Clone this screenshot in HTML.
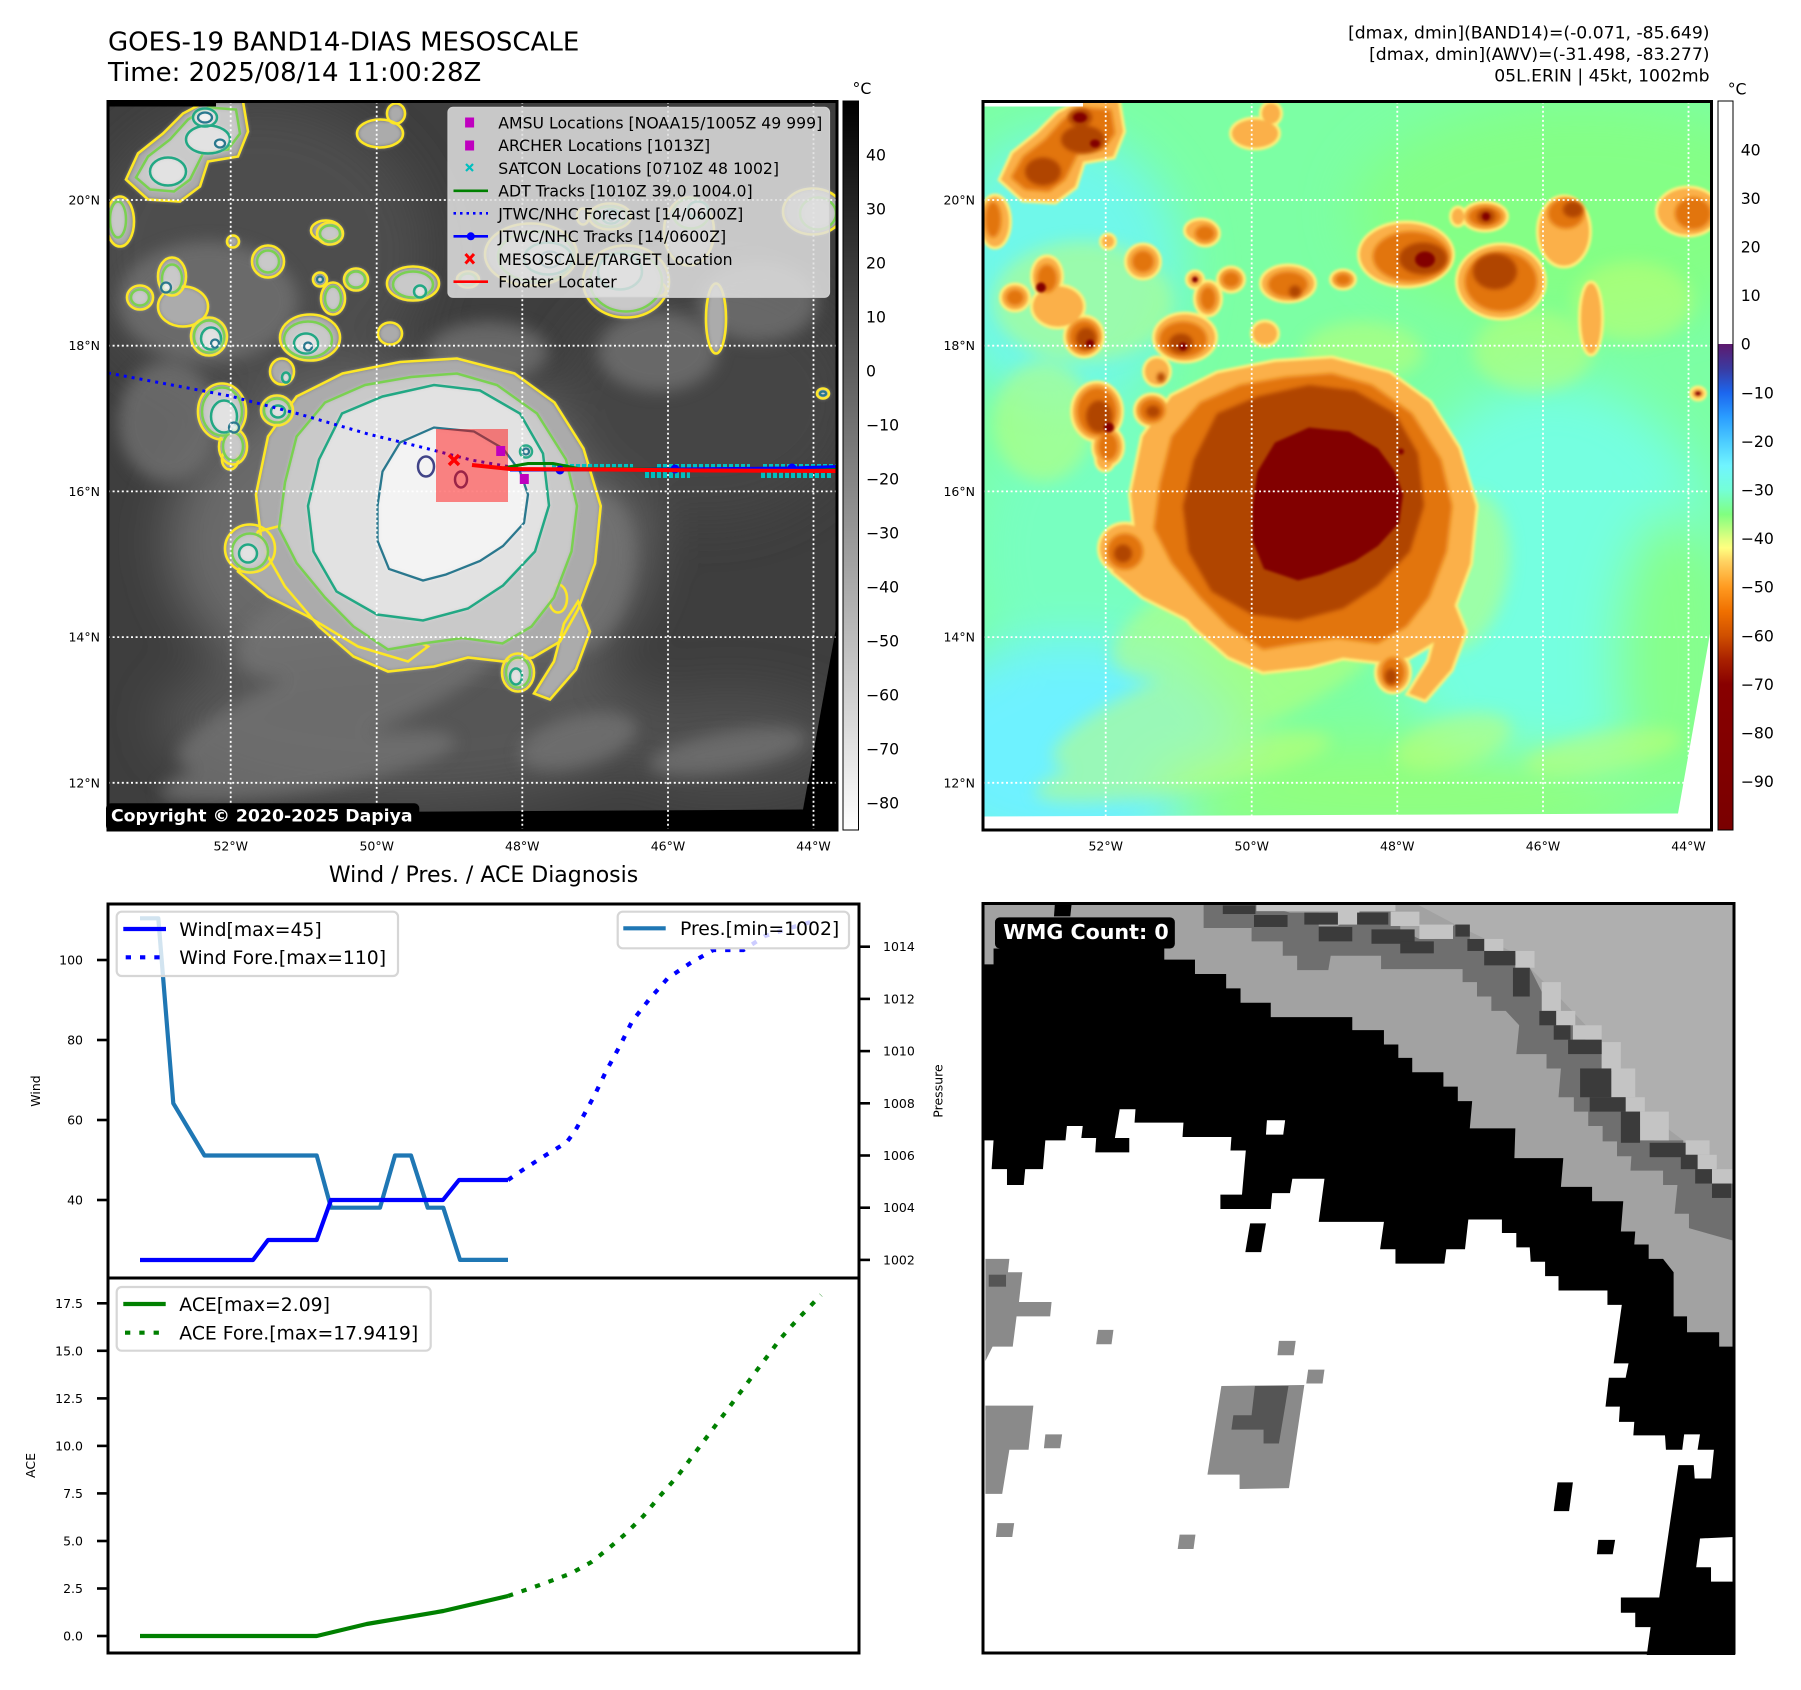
<!DOCTYPE html>
<html><head><meta charset="utf-8"><style>
html,body{margin:0;padding:0;background:#fff;}
svg{display:block;}
text{font-family:"DejaVu Sans","Liberation Sans",sans-serif;}
</style></head><body>
<svg width="1801" height="1690" viewBox="0 0 1801 1690" xmlns="http://www.w3.org/2000/svg">
<defs>
<clipPath id="mc"><rect x="0" y="0" width="729" height="728.5"/></clipPath>
<filter id="b1" x="-20%" y="-20%" width="140%" height="140%"><feGaussianBlur stdDeviation="1.3"/></filter>
<filter id="b2" x="-20%" y="-20%" width="140%" height="140%"><feGaussianBlur stdDeviation="2"/></filter>
<filter id="b8" x="-30%" y="-30%" width="160%" height="160%"><feGaussianBlur stdDeviation="8"/></filter>
<filter id="b25" x="-50%" y="-50%" width="200%" height="200%"><feGaussianBlur stdDeviation="25"/></filter>
<linearGradient id="gcb" x1="0" y1="0" x2="0" y2="1">
<stop offset="0" stop-color="#000"/><stop offset="1" stop-color="#fff"/>
</linearGradient>
<linearGradient id="rcb" x1="0" y1="0" x2="0" y2="1">
<stop offset="0" stop-color="#fff"/><stop offset="0.333" stop-color="#fff"/>
<stop offset="0.3335" stop-color="#5e1a6e"/>
<stop offset="0.367" stop-color="#3a3aa0"/>
<stop offset="0.4" stop-color="#1c66ee"/>
<stop offset="0.433" stop-color="#2a9cff"/>
<stop offset="0.467" stop-color="#4cccff"/>
<stop offset="0.5" stop-color="#70f4ff"/>
<stop offset="0.533" stop-color="#74ffd8"/>
<stop offset="0.567" stop-color="#80ff80"/>
<stop offset="0.6" stop-color="#e0ff80"/>
<stop offset="0.613" stop-color="#ffff80"/>
<stop offset="0.633" stop-color="#ffd060"/>
<stop offset="0.667" stop-color="#ff9a20"/>
<stop offset="0.7" stop-color="#f07000"/>
<stop offset="0.733" stop-color="#d05000"/>
<stop offset="0.767" stop-color="#a82000"/>
<stop offset="0.8" stop-color="#880000"/>
<stop offset="1" stop-color="#7a0000"/>
</linearGradient>

<g id="c0">
<ellipse cx="290" cy="500" rx="170" ry="55" transform="rotate(-20 290 500)"/>
<ellipse cx="230" cy="600" rx="170" ry="40" transform="rotate(-20 230 600)"/>
<ellipse cx="200" cy="665" rx="150" ry="25" transform="rotate(-10 200 665)"/>
<ellipse cx="480" cy="470" rx="45" ry="80" transform="rotate(10 480 470)"/>
<ellipse cx="620" cy="650" rx="80" ry="20" transform="rotate(-10 620 650)"/>
<ellipse cx="100" cy="200" rx="90" ry="60"/>
<ellipse cx="60" cy="320" rx="50" ry="60"/>
<ellipse cx="380" cy="250" rx="60" ry="30"/>
<ellipse cx="550" cy="250" rx="60" ry="40"/>
<ellipse cx="650" cy="200" rx="60" ry="40"/>
<ellipse cx="470" cy="640" rx="60" ry="25" transform="rotate(-15 470 640)"/>
</g>

<g id="c1">
<polygon points="18,78 30,52 55,32 75,12 98,0 135,0 140,30 130,55 100,60 92,85 72,100 40,98"/>
<ellipse cx="12" cy="120" rx="14" ry="25"/>
<ellipse cx="64" cy="175" rx="14" ry="19"/>
<ellipse cx="32" cy="196" rx="13" ry="12"/>
<ellipse cx="75" cy="205" rx="25" ry="20"/>
<ellipse cx="101" cy="235" rx="18" ry="19"/>
<ellipse cx="114" cy="310" rx="24" ry="28"/>
<ellipse cx="125" cy="345" rx="14" ry="18"/>
<ellipse cx="169" cy="309" rx="16" ry="15"/>
<ellipse cx="160" cy="160" rx="16" ry="16"/>
<ellipse cx="202" cy="236" rx="30" ry="23"/>
<ellipse cx="222" cy="132" rx="13" ry="11"/>
<ellipse cx="212" cy="178" rx="7" ry="7"/>
<ellipse cx="225" cy="197" rx="12" ry="16"/>
<ellipse cx="248" cy="178" rx="12" ry="11"/>
<ellipse cx="174" cy="270" rx="12" ry="13"/>
<ellipse cx="305" cy="182" rx="26" ry="17"/>
<ellipse cx="282" cy="232" rx="12" ry="11"/>
<ellipse cx="218" cy="129" rx="15" ry="10"/>
<ellipse cx="288" cy="12" rx="9" ry="10"/>
<ellipse cx="272" cy="32" rx="23" ry="14"/>
<ellipse cx="360" cy="178" rx="11" ry="8"/>
<ellipse cx="423" cy="153" rx="46" ry="31"/>
<ellipse cx="518" cy="180" rx="43" ry="36"/>
<ellipse cx="502" cy="115" rx="21" ry="13"/>
<ellipse cx="475" cy="115" rx="6" ry="8"/>
<ellipse cx="550" cy="188" rx="8" ry="7"/>
<ellipse cx="581" cy="130" rx="25" ry="34"/>
<ellipse cx="608" cy="217" rx="10" ry="35"/>
<ellipse cx="705" cy="110" rx="30" ry="23"/>
<ellipse cx="715" cy="292" rx="6" ry="5"/>
<ellipse cx="125" cy="140" rx="6" ry="6"/>
<ellipse cx="122" cy="358" rx="8" ry="10"/>
<ellipse cx="412" cy="346" rx="14" ry="12"/>
<ellipse cx="410" cy="571" rx="16" ry="19"/>
<ellipse cx="450" cy="497" rx="9" ry="14"/>
<ellipse cx="142" cy="447" rx="25" ry="24"/>
<polygon points="130,470 150,430 190,420 230,470 270,520 320,545 300,560 250,545 200,515 160,495"/>
<polygon points="470,500 482,530 468,568 442,598 426,592 446,560 456,522"/>
<polygon points="148,393 160,335 188.6,295 234.5,272 292,260.5 349,257 406.5,272 446.5,301 475.5,347 492.7,404.5 487,462 470,508 452,540 425,556 395,560 360,556 326,565 280,570 245.5,555 211,525 177,485 154,444.5"/>
</g>

<g id="c2">
<polygon points="28,76 40,55 62,38 80,18 100,6 128,8 132,32 120,48 95,52 82,78 66,90 42,88"/>
<ellipse cx="10" cy="118" rx="8" ry="18"/>
<ellipse cx="64" cy="177" rx="10" ry="14"/>
<ellipse cx="32" cy="196" rx="9" ry="8"/>
<ellipse cx="101" cy="235" rx="15" ry="16"/>
<ellipse cx="114" cy="310" rx="20" ry="24"/>
<ellipse cx="125" cy="345" rx="10" ry="14"/>
<ellipse cx="169" cy="309" rx="13" ry="12"/>
<ellipse cx="160" cy="160" rx="11" ry="11"/>
<ellipse cx="200" cy="238" rx="24" ry="18"/>
<ellipse cx="222" cy="132" rx="10" ry="8"/>
<ellipse cx="225" cy="197" rx="8" ry="12"/>
<ellipse cx="248" cy="178" rx="9" ry="8"/>
<ellipse cx="305" cy="183" rx="20" ry="13"/>
<ellipse cx="360" cy="178" rx="8" ry="6"/>
<ellipse cx="428" cy="155" rx="38" ry="25"/>
<ellipse cx="518" cy="180" rx="36" ry="30"/>
<ellipse cx="502" cy="115" rx="17" ry="10"/>
<ellipse cx="583" cy="112" rx="18" ry="15"/>
<ellipse cx="710" cy="112" rx="18" ry="16"/>
<ellipse cx="142" cy="450" rx="18" ry="18"/>
<ellipse cx="410" cy="571" rx="12" ry="15"/>
<polygon points="177,381 188.6,335 217,301 257,283.5 303,275.5 349,272 389,283.5 429,312 458,358 469,404.5 463.5,450 446,496 423.5,525 394.5,542 354.5,536.5 314.5,542 280,548 245.5,525 217,496 188.6,461.5 171,427"/>
</g>

<g id="c3">
<ellipse cx="100" cy="38" rx="22" ry="14"/>
<ellipse cx="60" cy="70" rx="18" ry="14"/>
<ellipse cx="97" cy="16" rx="12" ry="9"/>
<ellipse cx="103" cy="237" rx="10" ry="11"/>
<ellipse cx="116" cy="315" rx="13" ry="16"/>
<ellipse cx="170" cy="310" rx="7" ry="6"/>
<ellipse cx="198" cy="242" rx="12" ry="10"/>
<ellipse cx="312" cy="190" rx="6" ry="6"/>
<ellipse cx="440" cy="157" rx="24" ry="16"/>
<ellipse cx="512" cy="170" rx="22" ry="18"/>
<ellipse cx="503" cy="115" rx="9" ry="7"/>
<ellipse cx="590" cy="108" rx="10" ry="8"/>
<ellipse cx="140" cy="452" rx="9" ry="9"/>
<ellipse cx="418" cy="350" rx="6" ry="6"/>
<ellipse cx="408" cy="575" rx="6" ry="8"/>
<ellipse cx="178" cy="276" rx="4" ry="5"/>
<polygon points="211,358 234,312 274.5,295 326,283.5 372,289 412,312 435,352 441,404 427,450 395,484 360,507 315,519 269,513 228.5,490 205.5,450 200,404.5"/>
</g>

<g id="c4">
<ellipse cx="97" cy="16" rx="7" ry="5"/>
<ellipse cx="112" cy="42" rx="5" ry="4"/>
<ellipse cx="58" cy="186" rx="5" ry="5"/>
<ellipse cx="107" cy="242" rx="4" ry="4"/>
<ellipse cx="126" cy="326" rx="5" ry="5"/>
<ellipse cx="200" cy="245" rx="4" ry="4"/>
<ellipse cx="212" cy="178" rx="3" ry="3"/>
<ellipse cx="442" cy="158" rx="10" ry="8"/>
<ellipse cx="503" cy="115" rx="4" ry="4"/>
<ellipse cx="715" cy="292" rx="3" ry="2"/>
<ellipse cx="418" cy="350" rx="3" ry="3"/>
<polygon points="274.5,370 292,341 326,326 366,330 395,347 412,370 420,393 416,421.5 395,444.5 372,459.5 338,473 315,479 281,467.5 269.5,439 269.5,404.5"/>
</g>

<g id="grid" fill="none" stroke="#fff" stroke-width="1.8" stroke-dasharray="2 2.6">
<line x1="122.7" y1="0" x2="122.7" y2="729"/>
<line x1="268.7" y1="0" x2="268.7" y2="729"/>
<line x1="414.3" y1="0" x2="414.3" y2="729"/>
<line x1="560" y1="0" x2="560" y2="729"/>
<line x1="705.5" y1="0" x2="705.5" y2="729"/>
<line x1="0" y1="98.5" x2="729" y2="98.5"/>
<line x1="0" y1="244.2" x2="729" y2="244.2"/>
<line x1="0" y1="389.9" x2="729" y2="389.9"/>
<line x1="0" y1="535.6" x2="729" y2="535.6"/>
<line x1="0" y1="681.3" x2="729" y2="681.3"/>
</g>
</defs>

<!-- Titles -->
<text x="108" y="50.7" font-size="26">GOES-19 BAND14-DIAS MESOSCALE</text>
<text x="108" y="81" font-size="26">Time: 2025/08/14 11:00:28Z</text>
<text x="1709.5" y="38.5" font-size="17.2" text-anchor="end">[dmax, dmin](BAND14)=(-0.071, -85.649)</text>
<text x="1709.5" y="60" font-size="17.2" text-anchor="end">[dmax, dmin](AWV)=(-31.498, -83.277)</text>
<text x="1709.5" y="81.5" font-size="17.2" text-anchor="end">05L.ERIN | 45kt, 1002mb</text>

<!-- LEFT MAP -->
<g transform="translate(108,101.5)">
<g clip-path="url(#mc)">
<rect x="0" y="0" width="729" height="729" fill="#3e3e3e"/>
<g filter="url(#b25)">
<ellipse cx="150" cy="150" rx="170" ry="150" fill="#4e4e4e"/>
<ellipse cx="300" cy="440" rx="240" ry="170" fill="#6a6a6a"/>
<ellipse cx="300" cy="620" rx="250" ry="80" fill="#575757"/>
<ellipse cx="600" cy="300" rx="150" ry="120" fill="#454545"/>
<ellipse cx="620" cy="640" rx="120" ry="50" fill="#505050"/>
</g>
<use href="#c0" fill="#747474" opacity="0.75" filter="url(#b8)"/>
<use href="#c1" fill="#ababab" filter="url(#b2)"/>
<use href="#c1" fill="none" stroke="#fde725" stroke-width="2.6"/>
<use href="#c2" fill="#c9c9c9" filter="url(#b2)"/>
<use href="#c2" fill="none" stroke="#7ad151" stroke-width="2.5"/>
<use href="#c3" fill="#e2e2e2" filter="url(#b2)"/>
<use href="#c3" fill="none" stroke="#22a884" stroke-width="2.5"/>
<use href="#c4" fill="#f3f3f3" filter="url(#b2)"/>
<use href="#c4" fill="none" stroke="#2a788e" stroke-width="2.3"/>
<ellipse cx="318" cy="365" rx="8" ry="10" fill="none" stroke="#414487" stroke-width="2.5"/>
<ellipse cx="353" cy="378" rx="6" ry="8" fill="none" stroke="#414487" stroke-width="2.5"/>
<polygon points="729,521 729,729 0,729 0,712 695,708" fill="#000"/>
<rect x="0" y="0" width="108" height="5" fill="#000"/>
<use href="#grid"/>
<!-- tracks -->
<polyline points="0,271.5 64,283.5 122,294.5 191,312.5 260,332.5 317,346.5 363,358.5 414,367.5" fill="none" stroke="#0000ff" stroke-width="3" stroke-dasharray="3 5"/>
<g stroke="#00c0c0" stroke-width="6" stroke-dasharray="4 2">
<line x1="444" y1="365.5" x2="525" y2="365.5"/>
<line x1="549" y1="365.5" x2="642" y2="365.5"/>
<line x1="655" y1="365.5" x2="729" y2="365.5"/>
<line x1="537" y1="373.5" x2="582" y2="373.5"/>
<line x1="653" y1="373.5" x2="725" y2="373.5"/>
</g>
<polyline points="392,367 420,362 445,362 470,367 729,368" fill="none" stroke="#008000" stroke-width="3"/>
<polyline points="402,368.5 452,368.5 567,367.5 684,366.5 729,365" fill="none" stroke="#0000ff" stroke-width="3"/>
<circle cx="452" cy="368.5" r="4.5" fill="#0000ff"/>
<circle cx="567" cy="367.5" r="4.5" fill="#0000ff"/>
<circle cx="684" cy="366.5" r="4.5" fill="#0000ff"/>
<polyline points="364,363.5 402,367.5 500,368 600,369 729,369.5" fill="none" stroke="#ff0000" stroke-width="4"/>
<rect x="328" y="327.5" width="72" height="73" fill="#ff0000" fill-opacity="0.47"/>
<g stroke="#ff0000" stroke-width="3.5"><line x1="341" y1="353.5" x2="351" y2="363.5"/><line x1="351" y1="353.5" x2="341" y2="363.5"/></g>
<rect x="388.2" y="344.5" width="9" height="10" fill="#bf00bf"/>
<rect x="411.8" y="372.5" width="9" height="10" fill="#bf00bf"/>
</g>
<rect x="0" y="0" width="729" height="728.5" fill="none" stroke="#000" stroke-width="3"/>
</g>

<!-- left legend -->
<rect x="448" y="107.3" width="381.5" height="190" rx="5" fill="#e0e0e0" fill-opacity="0.86" stroke="#cfcfcf" stroke-width="1.2"/>
<rect x="465.1" y="117.5" width="9" height="10" fill="#bf00bf"/>
<rect x="465.1" y="140.5" width="9" height="10" fill="#bf00bf"/>
<g stroke="#00bfbf" stroke-width="2.2"><line x1="466" y1="164" x2="473" y2="171"/><line x1="473" y1="164" x2="466" y2="171"/></g>
<line x1="453.5" y1="190.8" x2="488" y2="190.8" stroke="#008000" stroke-width="2.6"/>
<line x1="453.5" y1="213.3" x2="488" y2="213.3" stroke="#0000ff" stroke-width="2.6" stroke-dasharray="2.5 4"/>
<line x1="453.5" y1="236.3" x2="488" y2="236.3" stroke="#0000ff" stroke-width="2.6"/>
<circle cx="470.8" cy="236.3" r="4" fill="#0000ff"/>
<g stroke="#ff0000" stroke-width="3"><line x1="465.5" y1="254" x2="474" y2="263.5"/><line x1="474" y1="254" x2="465.5" y2="263.5"/></g>
<line x1="453.5" y1="281.7" x2="488" y2="281.7" stroke="#ff0000" stroke-width="2.6"/>
<g font-size="15.7" fill="#000">
<text x="498.3" y="128.3">AMSU Locations [NOAA15/1005Z 49 999]</text>
<text x="498.3" y="151.1">ARCHER Locations [1013Z]</text>
<text x="498.3" y="173.8">SATCON Locations [0710Z 48 1002]</text>
<text x="498.3" y="196.6">ADT Tracks [1010Z 39.0 1004.0]</text>
<text x="498.3" y="219.3">JTWC/NHC Forecast [14/0600Z]</text>
<text x="498.3" y="242.1">JTWC/NHC Tracks [14/0600Z]</text>
<text x="498.3" y="264.8">MESOSCALE/TARGET Location</text>
<text x="498.3" y="287.6">Floater Locater</text>
</g>

<!-- copyright -->
<rect x="106" y="803.3" width="313.3" height="27.7" rx="5" fill="#000"/>
<text x="111" y="821.7" font-size="17.3" font-weight="bold" fill="#fff">Copyright © 2020-2025 Dapiya</text>

<!-- map tick labels -->
<g font-size="12.5" fill="#000">
<g text-anchor="end">
<text x="100" y="204.5">20°N</text>
<text x="100" y="350.2">18°N</text>
<text x="100" y="495.9">16°N</text>
<text x="100" y="641.6">14°N</text>
<text x="100" y="787.3">12°N</text>
<text x="975" y="204.5">20°N</text>
<text x="975" y="350.2">18°N</text>
<text x="975" y="495.9">16°N</text>
<text x="975" y="641.6">14°N</text>
<text x="975" y="787.3">12°N</text>
</g>
<g text-anchor="middle">
<text x="230.7" y="850.5">52°W</text>
<text x="376.7" y="850.5">50°W</text>
<text x="522.3" y="850.5">48°W</text>
<text x="668" y="850.5">46°W</text>
<text x="813.5" y="850.5">44°W</text>
<text x="1105.7" y="850.5">52°W</text>
<text x="1251.7" y="850.5">50°W</text>
<text x="1397.3" y="850.5">48°W</text>
<text x="1543" y="850.5">46°W</text>
<text x="1688.5" y="850.5">44°W</text>
</g>
</g>

<!-- left colorbar -->
<rect x="843" y="101" width="15.5" height="729" fill="url(#gcb)" stroke="#000" stroke-width="1"/>
<text x="852.5" y="94" font-size="15.7">°C</text>
<g font-size="15.7">
<text x="866" y="160.7">40</text>
<text x="866" y="214.7">30</text>
<text x="866" y="268.7">20</text>
<text x="866" y="322.7">10</text>
<text x="866" y="376.7">0</text>
<text x="866" y="430.7">−10</text>
<text x="866" y="484.7">−20</text>
<text x="866" y="538.7">−30</text>
<text x="866" y="592.7">−40</text>
<text x="866" y="646.7">−50</text>
<text x="866" y="700.7">−60</text>
<text x="866" y="754.7">−70</text>
<text x="866" y="808.7">−80</text>
</g>

<!-- RIGHT MAP -->
<g transform="translate(983,101.5)">
<g clip-path="url(#mc)">
<rect x="0" y="0" width="729" height="729" fill="#7cffa4"/>
<g filter="url(#b25)">
<ellipse cx="80" cy="170" rx="120" ry="140" fill="#6ff8ea"/>
<ellipse cx="120" cy="450" rx="130" ry="160" fill="#78ffc0"/>
<ellipse cx="90" cy="650" rx="170" ry="110" fill="#6ef2ff"/>
<ellipse cx="570" cy="480" rx="170" ry="200" fill="#74ffe0"/>
<ellipse cx="600" cy="110" rx="230" ry="110" fill="#84ff86"/>
<ellipse cx="420" cy="690" rx="250" ry="50" fill="#90ff80"/>
<ellipse cx="690" cy="560" rx="60" ry="150" fill="#86ff8c"/>
</g>
<use href="#c0" fill="#c4ff70" opacity="0.5" filter="url(#b8)"/>
<use href="#c1" fill="none" stroke="#fff07a" stroke-width="6" filter="url(#b1)"/>
<use href="#c1" fill="#fbb048" filter="url(#b1)"/>
<use href="#c2" fill="#e27410" filter="url(#b2)"/>
<use href="#c3" fill="#b04400" filter="url(#b2)"/>
<use href="#c4" fill="#820000" filter="url(#b1)"/>
<polygon points="729,521 729,729 0,729 0,715 695,712" fill="#fff"/>
<rect x="0" y="0" width="100" height="5" fill="#fff"/>
<use href="#grid"/>
</g>
<rect x="0" y="0" width="728.5" height="728.5" fill="none" stroke="#000" stroke-width="3"/>
</g>

<!-- right colorbar -->
<rect x="1718" y="101" width="15" height="729" fill="url(#rcb)" stroke="#000" stroke-width="1"/>
<text x="1727.7" y="94.5" font-size="15.7">°C</text>
<g font-size="15.7">
<text x="1740.7" y="155.3">40</text>
<text x="1740.7" y="203.9">30</text>
<text x="1740.7" y="252.5">20</text>
<text x="1740.7" y="301.1">10</text>
<text x="1740.7" y="349.7">0</text>
<text x="1740.7" y="398.3">−10</text>
<text x="1740.7" y="446.9">−20</text>
<text x="1740.7" y="495.5">−30</text>
<text x="1740.7" y="544.1">−40</text>
<text x="1740.7" y="592.7">−50</text>
<text x="1740.7" y="641.3">−60</text>
<text x="1740.7" y="689.9">−70</text>
<text x="1740.7" y="738.5">−80</text>
<text x="1740.7" y="787.1">−90</text>
</g>

<!-- WIND / PRES / ACE -->
<text x="483.5" y="882" font-size="22" text-anchor="middle">Wind / Pres. / ACE Diagnosis</text>

<g stroke="#000" stroke-width="2.6">
<line x1="97" y1="960" x2="108" y2="960"/>
<line x1="97" y1="1040" x2="108" y2="1040"/>
<line x1="97" y1="1120" x2="108" y2="1120"/>
<line x1="97" y1="1200" x2="108" y2="1200"/>
<line x1="859" y1="946.7" x2="870" y2="946.7"/>
<line x1="859" y1="998.9" x2="870" y2="998.9"/>
<line x1="859" y1="1051.1" x2="870" y2="1051.1"/>
<line x1="859" y1="1103.3" x2="870" y2="1103.3"/>
<line x1="859" y1="1155.5" x2="870" y2="1155.5"/>
<line x1="859" y1="1207.7" x2="870" y2="1207.7"/>
<line x1="859" y1="1259.9" x2="870" y2="1259.9"/>
<line x1="97" y1="1303.3" x2="108" y2="1303.3"/>
<line x1="97" y1="1350.8" x2="108" y2="1350.8"/>
<line x1="97" y1="1398.4" x2="108" y2="1398.4"/>
<line x1="97" y1="1445.9" x2="108" y2="1445.9"/>
<line x1="97" y1="1493.4" x2="108" y2="1493.4"/>
<line x1="97" y1="1541" x2="108" y2="1541"/>
<line x1="97" y1="1588.5" x2="108" y2="1588.5"/>
<line x1="97" y1="1636" x2="108" y2="1636"/>
</g>
<g font-size="12.5" text-anchor="end">
<text x="83" y="964.5">100</text>
<text x="83" y="1044.5">80</text>
<text x="83" y="1124.5">60</text>
<text x="83" y="1204.5">40</text>
<text x="83" y="1307.8">17.5</text>
<text x="83" y="1355.3">15.0</text>
<text x="83" y="1402.9">12.5</text>
<text x="83" y="1450.4">10.0</text>
<text x="83" y="1497.9">7.5</text>
<text x="83" y="1545.5">5.0</text>
<text x="83" y="1593">2.5</text>
<text x="83" y="1640.5">0.0</text>
</g>
<g font-size="12.5">
<text x="883" y="951.2">1014</text>
<text x="883" y="1003.4">1012</text>
<text x="883" y="1055.6">1010</text>
<text x="883" y="1107.8">1008</text>
<text x="883" y="1160">1006</text>
<text x="883" y="1212.2">1004</text>
<text x="883" y="1264.4">1002</text>
</g>
<text transform="translate(40,1091) rotate(-90)" font-size="12.5" text-anchor="middle">Wind</text>
<text transform="translate(942.5,1091) rotate(-90)" font-size="12.5" text-anchor="middle">Pressure</text>
<text transform="translate(35,1465.5) rotate(-90)" font-size="12.5" text-anchor="middle">ACE</text>

<polyline points="140,918.3 158.3,918.3 173.3,1103.3 204.5,1155.5 316.7,1155.5 331,1207.7 380,1207.7 395,1155.5 411,1155.5 427.7,1207.7 443.3,1207.7 460,1259.9 508,1259.9" fill="none" stroke="#1f77b4" stroke-width="4.2" stroke-linejoin="round"/>
<polyline points="140,1260 253,1260 268,1240 316.7,1240 331,1200 443,1200 459,1180 508,1180" fill="none" stroke="#0000ff" stroke-width="4.2" stroke-linejoin="round"/>
<polyline points="508,1180 520,1171.7 542.3,1157.3 566.7,1142.3 575,1131 581.7,1119 595,1094.3 606.7,1070 620,1045.7 632.3,1021 649.3,999.3 667.7,978.3 690,963.3 713.3,950 743.3,950 765,936 790,928 818,920" fill="none" stroke="#0000ff" stroke-width="4.2" stroke-dasharray="5.3 9"/>
<polyline points="140,1636 316.7,1636 366.7,1624 443.3,1611 508,1596" fill="none" stroke="#008000" stroke-width="4.2" stroke-linejoin="round"/>
<polyline points="508,1596 539.8,1585 570.9,1573.5 591.5,1562 608.7,1548.3 626,1533.4 643.2,1516.2 660.4,1495.5 677.7,1476 694.9,1453 712.1,1430 729.4,1407 746.6,1384 763.8,1361 781,1338 798.3,1318.5 821,1295" fill="none" stroke="#008000" stroke-width="4.2" stroke-dasharray="5.3 9"/>

<rect x="116.7" y="911.7" width="281.3" height="64.3" rx="5" fill="#fff" fill-opacity="0.8" stroke="#d6d6d6" stroke-width="2.2"/>
<line x1="123.3" y1="929" x2="166" y2="929" stroke="#0000ff" stroke-width="4.2"/>
<line x1="125.7" y1="957.3" x2="166" y2="957.3" stroke="#0000ff" stroke-width="4.2" stroke-dasharray="5.3 9"/>
<text x="179.3" y="935.8" font-size="18.8">Wind[max=45]</text>
<text x="179.3" y="964.1" font-size="18.8">Wind Fore.[max=110]</text>

<rect x="617.7" y="911.7" width="231.3" height="36.6" rx="5" fill="#fff" fill-opacity="0.8" stroke="#d6d6d6" stroke-width="2.2"/>
<line x1="623.3" y1="928.3" x2="665.7" y2="928.3" stroke="#1f77b4" stroke-width="4.2"/>
<text x="680" y="935.1" font-size="18.8">Pres.[min=1002]</text>

<rect x="116.7" y="1287" width="314" height="63.7" rx="5" fill="#fff" fill-opacity="0.8" stroke="#d6d6d6" stroke-width="2.2"/>
<line x1="123.3" y1="1304" x2="165.7" y2="1304" stroke="#008000" stroke-width="4.2"/>
<line x1="125" y1="1332.7" x2="165.7" y2="1332.7" stroke="#008000" stroke-width="4.2" stroke-dasharray="5.3 9"/>
<text x="179.3" y="1310.8" font-size="18.8">ACE[max=2.09]</text>
<text x="179.3" y="1339.5" font-size="18.8">ACE Fore.[max=17.9419]</text>

<rect x="108" y="904" width="751" height="374" fill="none" stroke="#000" stroke-width="3"/>
<rect x="108" y="1278" width="751" height="375" fill="none" stroke="#000" stroke-width="3"/>

<!-- BOTTOM RIGHT PANEL -->
<svg x="983" y="903" width="752" height="752" viewBox="0 0 1568 1568" preserveAspectRatio="none">
<rect x="0" y="0" width="1568" height="1568" fill="#a2a2a2"/>
<polygon points="900,0 1568,0 1568,585 1460,495 1340,405 1290,290 1200,195 1110,105 985,45" fill="#afafaf"/>
<polygon points="460,0 460,52 560,52 560,80 625,80 625,110 655,110 655,140 720,140 725,110 830,110 830,138 1000,138 1000,165 1030,165 1030,195 1060,195 1060,225 1090,225 1118,255 1112,315 1175,315 1175,345 1205,345 1200,405 1232,405 1232,435 1262,435 1262,465 1292,465 1292,497 1322,497 1322,528 1352,528 1350,558 1418,558 1418,588 1448,588 1442,648 1472,648 1472,678 1568,705 1568,585 1520,585 1520,555 1490,555 1490,525 1460,525 1460,495 1400,495 1400,465 1370,465 1370,435 1340,435 1340,405 1310,405 1310,345 1290,345 1290,290 1260,290 1230,255 1200,225 1200,195 1170,195 1140,135 1110,135 1110,105 1050,105 1050,75 1015,75 1015,45 985,45 940,75 910,75 870,55 870,20 850,18 780,18 740,48 700,48 700,20 640,20 568,0" fill="#6f6f6f"/>
<g fill="#c4c4c4">
<rect x="570" y="3" width="290" height="14"/>
<rect x="740" y="15" width="45" height="30"/><rect x="850" y="18" width="60" height="30"/><rect x="910" y="45" width="70" height="30"/>
<rect x="1045" y="75" width="40" height="25"/><rect x="1110" y="100" width="40" height="35"/><rect x="1165" y="165" width="40" height="60"/>
<rect x="1195" y="225" width="40" height="30"/><rect x="1230" y="255" width="60" height="30"/><rect x="1290" y="290" width="40" height="60"/>
<rect x="1310" y="345" width="50" height="60"/><rect x="1340" y="405" width="40" height="30"/><rect x="1370" y="435" width="60" height="60"/>
<rect x="1465" y="495" width="50" height="30"/><rect x="1490" y="525" width="40" height="30"/><rect x="1520" y="555" width="45" height="30"/>
</g>
<g fill="#3b3b3b">
<rect x="500" y="5" width="68" height="18"/><rect x="565" y="25" width="70" height="25"/><rect x="670" y="20" width="70" height="25"/>
<rect x="700" y="50" width="70" height="30"/><rect x="780" y="20" width="65" height="25"/><rect x="810" y="55" width="90" height="30"/>
<rect x="870" y="80" width="70" height="25"/><rect x="985" y="45" width="30" height="25"/><rect x="1010" y="75" width="35" height="25"/>
<rect x="1045" y="100" width="65" height="30"/><rect x="1105" y="135" width="35" height="60"/><rect x="1160" y="225" width="35" height="30"/>
<rect x="1190" y="255" width="35" height="30"/><rect x="1220" y="285" width="70" height="30"/><rect x="1245" y="345" width="65" height="60"/>
<rect x="1265" y="405" width="75" height="30"/><rect x="1330" y="435" width="40" height="65"/><rect x="1390" y="500" width="75" height="30"/>
<rect x="1455" y="525" width="35" height="30"/><rect x="1485" y="555" width="35" height="30"/><rect x="1520" y="585" width="40" height="30"/>
</g>
<polygon points="0,128 22,128 22,95 378,95 378,118 442,118 442,148 507,148 507,178 537,178 537,208 600,208 600,238 770,238 770,265 836,265 836,295 866,295 866,323 895,323 895,353 960,353 960,383 990,383 990,413 1020,413 1015,470 1110,470 1108,532 1210,532 1205,592 1270,592 1270,622 1335,622 1330,685 1360,685 1358,712 1388,712 1388,742 1418,742 1440,770 1440,862 1468,862 1468,895 1535,895 1535,925 1568,925 1568,1568 0,1568" fill="#000"/>
<polygon points="150,0 185,0 182,28 148,28" fill="#000"/>
<polygon points="0,495 22,495 18,555 50,555 50,588 85,588 88,555 125,555 130,495 172,495 175,465 208,465 205,490 236,490 234,520 305,520 305,490 275,490 285,430 318,430 316,458 418,458 416,488 518,488 516,516 548,516 540,608 495,608 495,638 600,638 603,605 640,605 645,575 712,575 700,665 836,665 828,722 860,722 860,752 962,752 966,722 1005,722 1012,660 1082,660 1082,688 1112,688 1112,718 1140,718 1142,748 1172,748 1172,778 1200,778 1200,808 1302,808 1302,838 1332,838 1315,960 1346,960 1340,990 1305,990 1298,1050 1328,1050 1326,1082 1358,1082 1356,1110 1422,1110 1424,1140 1458,1140 1462,1108 1495,1108 1490,1140 1524,1140 1518,1200 1484,1200 1482,1172 1450,1172 1430,1310 1410,1448 1330,1448 1330,1480 1360,1480 1360,1510 1392,1510 1384,1568 0,1568" fill="#fff"/>
<polygon points="592,453 630,453 626,483 590,483" fill="#fff"/>
<polygon points="1495,1325 1565,1322 1565,1415 1518,1415 1518,1385 1487,1385" fill="#fff"/>
<g fill="#000">
<polygon points="557,668 590,668 580,728 547,728"/>
<polygon points="1198,1208 1230,1208 1222,1268 1190,1268"/>
<polygon points="1283,1328 1318,1328 1313,1358 1280,1358"/>
</g>
<g fill="#8a8a8a">
<polygon points="5,742 55,742 52,770 82,770 75,832 143,832 140,862 70,862 62,925 20,925 5,955"/>
<polygon points="240,890 272,890 268,920 236,920"/>
<polygon points="617,913 652,913 648,943 614,943"/>
<polygon points="678,973 712,973 708,1002 674,1002"/>
<polygon points="497,1007 670,1005 638,1220 535,1222 535,1192 468,1192"/>
<polygon points="5,1048 105,1048 95,1140 55,1140 40,1232 5,1232"/>
<polygon points="130,1108 165,1108 161,1137 127,1137"/>
<polygon points="30,1293 65,1293 61,1322 27,1322"/>
<polygon points="410,1317 443,1317 439,1347 406,1347"/>
</g>
<g fill="#555">
<polygon points="567,1007 637,1007 617,1127 585,1127 585,1098 518,1098 522,1068 560,1068"/>
<rect x="12" y="775" width="36" height="25"/>
</g>
<rect x="25" y="30" width="375" height="65" rx="10" fill="#000"/>
<text x="42" y="75" font-size="43" font-weight="bold" fill="#fff">WMG Count: 0</text>
</svg>
<rect x="983" y="903.5" width="751" height="749.5" fill="none" stroke="#000" stroke-width="3"/>
</svg>
</body></html>
